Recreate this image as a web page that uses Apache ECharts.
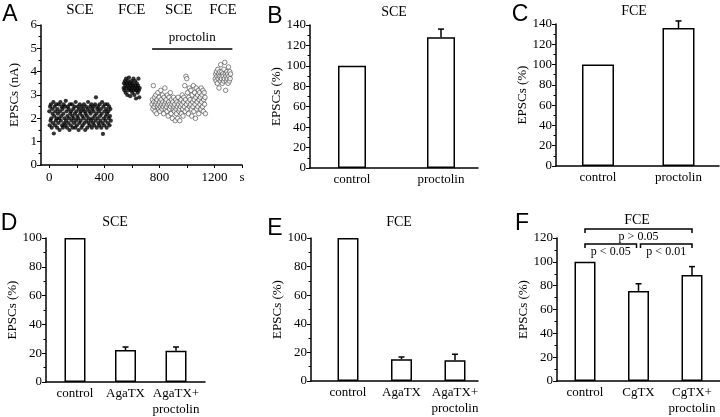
<!DOCTYPE html>
<html><head><meta charset="utf-8">
<script src="https://cdn.jsdelivr.net/npm/echarts@6/dist/echarts.min.js"></script>
<style>html,body{margin:0;padding:0;background:#fff}#c{width:720px;height:417px}</style>
</head><body><div id="c"></div>
<script>
// ---------- Panel A: EPSC amplitudes (nA) over time (s) ----------
const ctrlSceStart = 0, ctrlSceStep = 3;
const ctrlSce = [2.3,1.7,2.5,1.9,2.6,2.0,1.6,2.4,2.2,1.8,2.7,1.35,2.1,2.5,1.7,2.3,1.9,2.6,2.0,1.6,
2.4,2.2,1.8,2.6,2.0,1.5,2.3,2.7,1.9,2.1,2.5,1.7,2.4,1.6,2.2,2.6,1.8,2.0,2.5,1.7,
2.75,1.9,2.3,1.6,2.1,2.5,1.8,2.4,2.0,1.5,2.6,2.2,1.7,2.3,1.9,2.6,2.1,1.6,2.4,2.0,
1.8,2.5,2.2,1.6,2.7,1.9,2.3,1.7,2.1,2.5,2.0,1.5,2.4,1.8,2.6,2.2,1.9,2.3,1.6,2.5,
2.1,1.7,2.4,2.0,2.6,1.8,2.3,1.5,2.2,2.5,1.9,2.1,1.6,2.4,2.7,1.8,2.0,2.3,1.7,2.5,
2.2,1.9,2.6,1.6,2.4,2.0,1.8,2.3,2.5,1.7,2.1,2.6,1.9,2.9,2.2,1.6,2.4,2.0,2.5,1.8,
2.3,1.7,2.6,2.1,1.9,2.4,1.6,2.2,2.7,1.8,1.33,2.5,2.0,1.7,2.3,2.6,1.9,2.1,2.4,1.6,
2.2,2.6,1.8,2.3,2.0,2.5,1.7,2.1,2.4,1.9];
const ctrlFceStart = 540, ctrlFceStep = 3;
const ctrlFce = [3.3,3.5,3.2,3.6,3.4,3.1,3.7,3.3,3.5,3.0,3.4,3.6,3.2,3.75,3.3,3.5,2.95,3.4,3.2,3.6,
3.3,3.1,3.5,3.4,3.7,3.2,3.0,3.3,3.6,3.4,2.85,3.2,3.5,3.3,3.1,3.4,3.7,3.2,2.9,3.3];
const procSceStart = 747, procSceStep = 3;
const procSce = [2.6,2.8,2.4,3.4,2.7,2.5,2.9,2.3,2.6,3.0,2.7,2.2,2.8,2.5,3.1,2.6,2.4,2.9,2.7,2.3,
2.5,3.2,2.8,2.6,2.4,3.0,2.7,2.5,2.2,2.9,2.6,3.3,2.4,2.7,2.8,2.5,2.3,3.0,2.6,2.1,
2.7,2.9,2.4,2.6,3.1,2.5,2.2,2.8,2.6,2.0,2.7,2.4,2.9,2.5,2.3,2.6,1.9,2.8,2.4,2.2,
2.7,2.5,2.0,2.9,2.6,2.3,2.4,1.9,2.7,2.5,2.8,2.2,2.6,3.0,2.4,2.1,2.7,2.9,2.5,3.4,
2.3,2.8,3.8,2.6,3.7,2.4,3.1,2.7,2.2,2.9,3.3,2.5,2.8,2.6,3.2,2.4,2.1,3.0,2.7,2.5,
3.4,2.3,2.8,3.1,2.6,2.0,2.9,3.3,2.4,2.7,3.0,2.5,3.2,2.2,2.8,3.1,2.6,2.9,2.4,3.3,
2.7,3.0,2.5,3.2,2.3,2.8,3.1,2.6,2.9,2.2];
const procFceStart = 1206, procFceStep = 3;
const procFce = [3.7,3.9,3.6,4.0,3.8,3.5,4.1,3.7,3.9,3.3,3.8,4.0,3.6,4.3,3.8,3.7,4.0,3.5,3.9,3.8,
3.6,4.1,3.7,4.4,3.9,3.2,3.8,3.6,4.0,3.7,3.9,3.5,4.2,3.8,3.6,4.0,3.7,3.9];
const segLabelsA = ['SCE','FCE','SCE','FCE'];
const proctolinSpan = [747, 1330];
const proctolinLevel = 5;
const xTicksA = [0,200,400,600,800,1000,1200,1400];
const xLabelsA = [0,400,800,1200];
const xUnitA = 's';

// ---------- Panels B–F: EPSCs (%) ----------
const catsB = ['control','proctolin'];
const valsB = [100,128];
const errB  = [0,8];
const catsC = ['control','proctolin'];
const valsC = [100,136];
const errC  = [0,7];
const catsD = ['control','AgaTX','AgaTX+\nproctolin'];
const valsD = [100,22.2,21.7];
const errD  = [0,2.1,2.6];
const catsE = ['control','AgaTX','AgaTX+\nproctolin'];
const valsE = [100,15.2,14.5];
const errE  = [0,1.6,4.2];
const catsF = ['control','CgTX','CgTX+\nproctolin'];
const valsF = [100,75.6,89];
const errF  = [0,6,7];
// significance brackets in F: [fromIndex, toIndex, label, level]
const bracketsF = [[0,2,'p > 0.05',2],[0,1,'p < 0.05',1],[1,2,'p < 0.01',1]];

const SERIF = 'Liberation Serif';
const SANS = 'Liberation Sans';
const BLACK = '#000';

const grids = [], xAxes = [], yAxes = [], series = [];

function toPts(start, step, arr){ return arr.map((v,i)=>[start+i*step, v]); }

// ---- Panel A ----
grids.push({left:41, top:25, width:201, height:140, containLabel:false, outerBoundsMode:'none'});
xAxes.push({gridIndex:0, type:'value', min:-60, max:1400,
  axisLine:{show:true, onZero:false, lineStyle:{color:BLACK, width:1.5}},
  axisTick:{show:true, length:3, customValues:xTicksA, lineStyle:{color:BLACK, width:1}},
  axisLabel:{show:true, customValues:xLabelsA.concat([1400]), margin:6, color:BLACK, fontFamily:SERIF, fontSize:13,
    formatter:v=> v===1400 ? xUnitA : String(v)},
  splitLine:{show:false}});
yAxes.push({gridIndex:0, type:'value', min:0, max:6, interval:1,
  name:'EPSCs (nA)', nameLocation:'middle', nameGap:20, nameTextStyle:{color:BLACK, fontFamily:SERIF, fontSize:13},
  axisLine:{show:true, onZero:false, lineStyle:{color:BLACK, width:1.5}},
  axisTick:{show:true, length:4, lineStyle:{color:BLACK}},
  minorTick:{show:true, splitNumber:2, length:2.5, lineStyle:{color:BLACK}},
  axisLabel:{margin:4, color:BLACK, fontFamily:SERIF, fontSize:13},
  splitLine:{show:false}});
const segs = [[ctrlSceStart,ctrlSceStep,ctrlSce],[ctrlFceStart,ctrlFceStep,ctrlFce],[procSceStart,procSceStep,procSce],[procFceStart,procFceStep,procFce]];
series.push({type:'scatter', xAxisIndex:0, yAxisIndex:0, symbolSize:4.2, itemStyle:{color:BLACK}, z:3,
  data: toPts(ctrlSceStart,ctrlSceStep,ctrlSce).concat(toPts(ctrlFceStart,ctrlFceStep,ctrlFce))});
series.push({type:'scatter', xAxisIndex:0, yAxisIndex:0, symbolSize:4.5, z:3,
  itemStyle:{color:'#fff', borderColor:'#444', borderWidth:0.8},
  data: toPts(procSceStart,procSceStep,procSce).concat(toPts(procFceStart,procFceStep,procFce)),
  markLine:{silent:true, symbol:'none', animation:false,
    lineStyle:{color:BLACK, width:1.5, type:'solid'},
    label:{show:true, position:'middle', formatter:'proctolin', color:BLACK, fontFamily:SERIF, fontSize:13, distance:4},
    data:[[{coord:[proctolinSpan[0],proctolinLevel]},{coord:[proctolinSpan[1],proctolinLevel]}]]}});
// segment labels above panel A
series.push({type:'custom', xAxisIndex:0, yAxisIndex:0, silent:true, z:5,
  data: segs.map((s,i)=>[s[0]+(s[2].length-1)*s[1]/2, i]),
  renderItem:(p,api)=>{
    const pt = api.coord([api.value(0), 6]);
    return {type:'text', style:{text:segLabelsA[api.value(1)], x:pt[0], y:pt[1]-15, textAlign:'center', textVerticalAlign:'middle',
      font:'15px "'+SERIF+'"', fill:BLACK}};
  }});

// ---- Bar panels ----
function barPanel(grid, cats, vals, errs, yMax, xMin, xMax, barWidth, nameGap){
  const gi = grids.length;
  grids.push(Object.assign({containLabel:false, outerBoundsMode:'none'}, grid));
  xAxes.push({gridIndex:gi, type:'value', min:xMin, max:xMax,
    axisLine:{show:true, onZero:false, lineStyle:{color:BLACK, width:1.5}},
    axisTick:{show:false},
    axisLabel:{show:true, customValues:cats.map((c,i)=>i), margin:4, color:BLACK, fontFamily:SERIF, fontSize:13, lineHeight:16,
      formatter:v=>cats[Math.round(v)]},
    splitLine:{show:false}});
  yAxes.push({gridIndex:gi, type:'value', min:0, max:yMax, interval:20,
    name:'EPSCs (%)', nameLocation:'middle', nameGap:nameGap, nameTextStyle:{color:BLACK, fontFamily:SERIF, fontSize:13},
    axisLine:{show:true, onZero:false, lineStyle:{color:BLACK, width:1.5}},
    axisTick:{show:true, length:4, lineStyle:{color:BLACK}},
    minorTick:{show:true, splitNumber:2, length:2.5, lineStyle:{color:BLACK}},
    axisLabel:{margin:4, color:BLACK, fontFamily:SERIF, fontSize:13},
    splitLine:{show:false}});
  series.push({type:'bar', xAxisIndex:gi, yAxisIndex:gi, barWidth:barWidth, z:2,
    itemStyle:{color:'#fff', borderColor:BLACK, borderWidth:1.5},
    data: vals.map((v,i)=>[i,v])});
  const errData = [];
  vals.forEach((v,i)=>{ if(errs[i] > 0) errData.push([i, v, v+errs[i]]); });
  series.push({type:'custom', xAxisIndex:gi, yAxisIndex:gi, z:4, silent:true,
    encode:{x:0, y:[1,2]},
    data: errData,
    renderItem:(p,api)=>{
      const a = api.coord([api.value(0), api.value(1)]);
      const b = api.coord([api.value(0), api.value(2)]);
      return {type:'group', children:[
        {type:'line', shape:{x1:a[0],y1:a[1],x2:b[0],y2:b[1]}, style:{stroke:BLACK, lineWidth:1.5}},
        {type:'line', shape:{x1:b[0]-3,y1:b[1],x2:b[0]+3,y2:b[1]}, style:{stroke:BLACK, lineWidth:1.5}}
      ]};
    }});
  return gi;
}

barPanel({left:310, top:25, width:168, height:143}, catsB, valsB, errB, 140, -0.4719, 1.4157, 28, 22);
barPanel({left:556, top:24, width:163, height:142}, catsC, valsC, errC, 140, -0.5217, 1.503, 32, 22);
barPanel({left:46, top:238, width:159, height:144}, catsD, valsD, errD, 100, -0.574, 2.574, 21, 24);
barPanel({left:311, top:238, width:167, height:143}, catsE, valsE, errE, 100, -0.6916, 2.43, 21, 24);
const giF = barPanel({left:557, top:238, width:163, height:143}, catsF, valsF, errF, 120, -0.5234, 2.5234, 21, 24);

// significance brackets in F
series.push({type:'custom', xAxisIndex:giF, yAxisIndex:giF, z:5, silent:true,
  encode:{x:[0,1]},
  data: bracketsF.map((b,i)=>[b[0], b[1], i]),
  renderItem:(p,api)=>{
    const b = bracketsF[api.value(2)];
    const top = api.coord([0,120])[1];
    const y = b[3]===2 ? top-9 : top+6;
    let x1 = api.coord([b[0],0])[0], x2 = api.coord([b[1],0])[0];
    if(b[3]===1){ if(b[0]>0) x1 += 2; if(b[1]<2) x2 -= 2; }
    return {type:'group', children:[
      {type:'polyline', shape:{points:[[x1,y+4],[x1,y],[x2,y],[x2,y+4]]}, style:{stroke:BLACK, lineWidth:1.5, fill:null}},
      {type:'text', style:{text:b[2], x:(x1+x2)/2, y:y+8, textAlign:'center', textVerticalAlign:'middle', font:'12px "'+SERIF+'"', fill:BLACK}}
    ]};
  }});

// titles and panel letters
const txt = (t,x,y,size,fam)=>({type:'text', x:x, y:y, style:{text:t, textAlign:'center', textVerticalAlign:'middle', font:size+'px "'+fam+'"', fill:BLACK}});
const graphics = [
  txt('A',10,15,23,SANS), txt('B',275,17,23,SANS), txt('C',520,15,23,SANS),
  txt('D',9,224,23,SANS), txt('E',275,229,23,SANS), txt('F',522,224,23,SANS),
  txt('SCE',394,12,14,SERIF), txt('FCE',634,11,14,SERIF),
  txt('SCE',115,222,14,SERIF), txt('FCE',399,222,14,SERIF), txt('FCE',637,220,14,SERIF)
];

const chart = echarts.init(document.getElementById('c'), null, {renderer:'canvas'});
chart.setOption({
  animation:false,
  backgroundColor:'#fff',
  textStyle:{fontFamily:SERIF, color:BLACK},
  grid:grids, xAxis:xAxes, yAxis:yAxes, series:series,
  graphic:graphics
});
</script>
</body></html>
